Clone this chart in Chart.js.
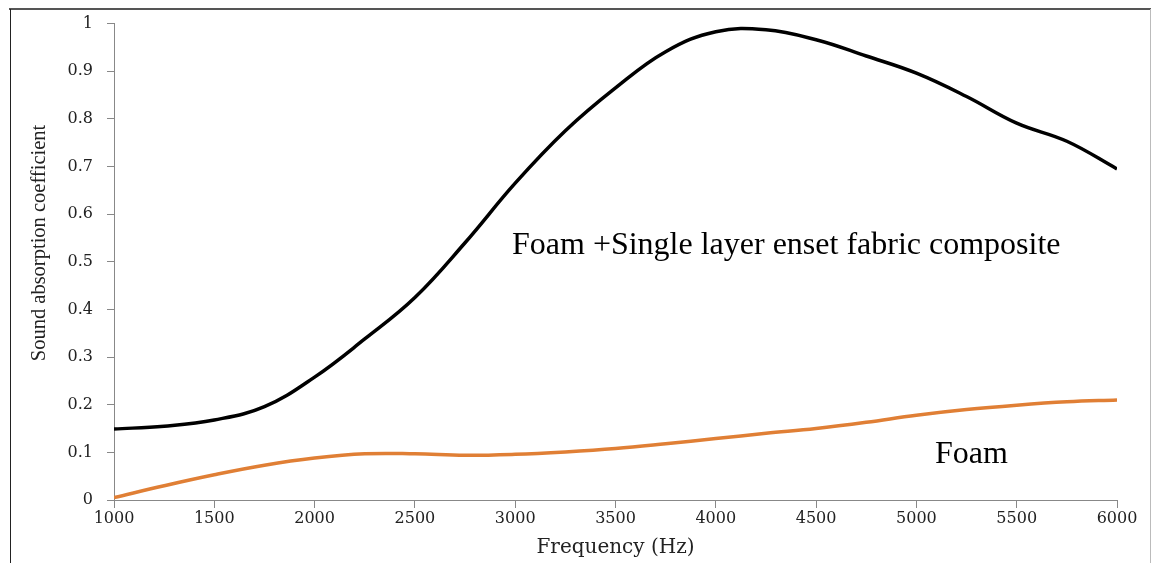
<!DOCTYPE html>
<html><head><meta charset="utf-8">
<script src="https://cdn.jsdelivr.net/npm/chart.js@4/dist/chart.umd.min.js"></script>
<style>html,body{margin:0;padding:0;background:#fff}#wrap{width:1155px;height:563px}</style>
</head><body><div id="wrap"><canvas id="c" width="1155" height="563"></canvas></div>
<script>
const frequencies = [1000,1250,1500,1750,2000,2250,2500,2750,3000,3250,3500,3750,4000,4250,4500,4750,5000,5250,5500,5750,6000];
const compositeValues = [0.149,0.155,0.168,0.196,0.258,0.338,0.425,0.54,0.665,0.775,0.865,0.941,0.983,0.987,0.966,0.932,0.896,0.847,0.791,0.753,0.695];
const foamValues = [0.005,0.03,0.053,0.073,0.088,0.097,0.097,0.094,0.096,0.101,0.108,0.118,0.129,0.14,0.15,0.163,0.178,0.19,0.199,0.206,0.21];
const xTickValues = [1000,1500,2000,2500,3000,3500,4000,4500,5000,5500,6000];
const yTickValues = [0,0.1,0.2,0.3,0.4,0.5,0.6,0.7,0.8,0.9,1];
const labels = [
  {text:'Foam +Single layer enset fabric composite', x:2984, y:0.517},
  {text:'Foam', x:5093, y:0.077}
];
const toPts = v => v.map((y,i)=>({x:frequencies[i],y}));

const decor = {
  id:'decor',
  beforeDraw(chart){
    const ctx = chart.ctx;
    ctx.save();
    ctx.fillStyle='#fff'; ctx.fillRect(0,0,chart.width,chart.height);
    ctx.strokeStyle='#555'; ctx.lineWidth=2;
    ctx.beginPath(); ctx.moveTo(9,9); ctx.lineTo(1151,9); ctx.stroke();
    ctx.strokeStyle='#222'; ctx.lineWidth=1;
    ctx.beginPath(); ctx.moveTo(10.5,9); ctx.lineTo(10.5,563); ctx.stroke();
    ctx.strokeStyle='#bbb';
    ctx.beginPath(); ctx.moveTo(1150.5,9); ctx.lineTo(1150.5,563); ctx.stroke();
    ctx.fillStyle='#222'; ctx.font='20.5px "Liberation Serif"';
    ctx.textAlign='center'; ctx.textBaseline='middle';
    ctx.translate(40,243); ctx.rotate(-Math.PI/2);
    ctx.fillText('Sound absorption coefficient',0,0);
    ctx.restore();
  },
  afterDatasetsDraw(chart){
    const ctx = chart.ctx, xs = chart.scales.x, ys = chart.scales.y;
    ctx.save();
    ctx.fillStyle='#000'; ctx.font='32px "Liberation Serif"'; ctx.textBaseline='alphabetic'; ctx.textAlign='left';
    labels.forEach(l=>ctx.fillText(l.text, xs.getPixelForValue(l.x), ys.getPixelForValue(l.y)));
    ctx.restore();
  }
};

new Chart(document.getElementById('c'), {
  type:'line',
  data:{datasets:[
    {label:'Foam +Single layer enset fabric composite', data:toPts(compositeValues), borderColor:'#000', borderWidth:3.5, pointRadius:0, tension:0.4, fill:false},
    {label:'Foam', data:toPts(foamValues), borderColor:'#E07F35', borderWidth:3.5, pointRadius:0, tension:0.4, fill:false}
  ]},
  options:{
    responsive:false, animation:false, devicePixelRatio:1,
    layout:{padding:{top:22,right:38,left:0,bottom:0}},
    plugins:{legend:{display:false}, tooltip:{enabled:false}},
    scales:{
      x:{type:'linear', min:1000, max:6000,
        afterBuildTicks(s){s.ticks = xTickValues.map(v=>({value:v}));},
        afterFit(s){s.height=63;},
        grid:{drawOnChartArea:false, color:'#888', tickColor:'#888', tickLength:8},
        border:{display:true,color:'#888',width:1},
        ticks:{color:'#222', font:{family:'DejaVu Serif', size:16}, padding:1, maxRotation:0, autoSkip:false, callback:v=>String(v)},
        title:{display:true, text:'Frequency (Hz)', color:'#222', font:{family:'DejaVu Serif', size:20}, padding:{top:0,bottom:3}}
      },
      y:{type:'linear', min:0, max:1,
        afterBuildTicks(s){s.ticks = yTickValues.map(v=>({value:v}));},
        afterFit(s){s.width=114;},
        grid:{drawOnChartArea:false, color:'#888', tickColor:'#888', tickLength:7},
        border:{display:true,color:'#888',width:1},
        ticks:{color:'#222', font:{family:'DejaVu Serif', size:16}, padding:14, autoSkip:false, callback:v=>String(v)}
      }
    }
  },
  plugins:[decor]
});
</script></body></html>
